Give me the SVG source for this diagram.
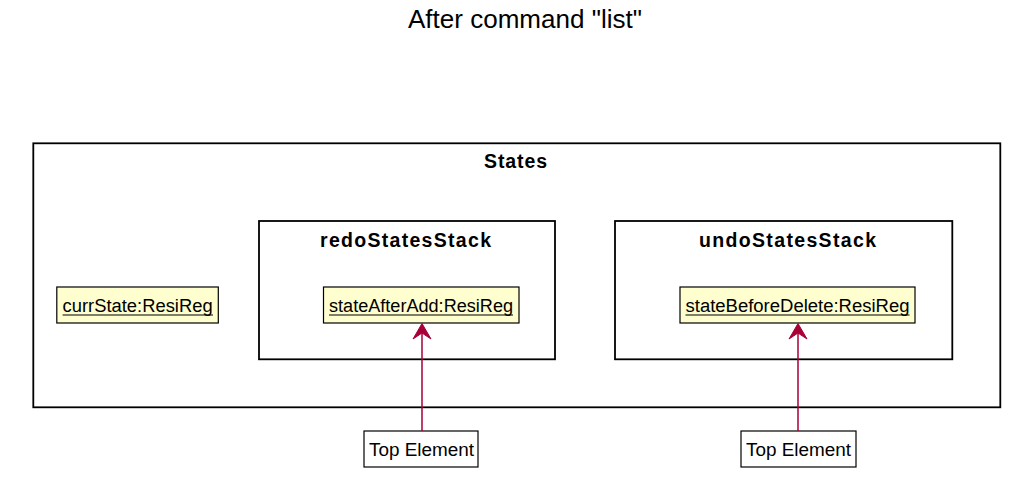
<svg xmlns="http://www.w3.org/2000/svg" width="1015" height="482" viewBox="0 0 1015 482">
<style>
.frame{fill:none;stroke:#000;stroke-width:1.8}
.obj{fill:#FEFECE;stroke:#000;stroke-width:1.2}
.note{fill:#fff;stroke:#000;stroke-width:1.2}
.ftitle{font-family:"Liberation Sans",Arial,sans-serif;font-weight:bold;font-size:19.5px;fill:#000}
.txt{font-family:"Liberation Sans",Arial,sans-serif;font-size:18px;fill:#000}
.u{stroke:#000;stroke-width:1.2}
.conn{stroke:#A80036;stroke-width:1.5;fill:none}
.head{fill:#A80036;stroke:#A80036;stroke-width:1}
</style>
<rect width="1015" height="482" fill="#fff"/>
<text x="525" y="28" text-anchor="middle" font-family="Liberation Sans, Arial, sans-serif" font-size="25.5" textLength="234" lengthAdjust="spacingAndGlyphs">After command "list"</text>
<g id="States">
<rect class="frame" x="33.3" y="143.3" width="967" height="264"/>
<text class="ftitle" x="484" y="168" textLength="63" lengthAdjust="spacing">States</text>
</g>
<g id="redoStatesStack">
<rect class="frame" x="259" y="221" width="296" height="138.3"/>
<text class="ftitle" x="320" y="247" textLength="171" lengthAdjust="spacing">redoStatesStack</text>
</g>
<g id="undoStatesStack">
<rect class="frame" x="615" y="221" width="337.3" height="138.3"/>
<text class="ftitle" x="699" y="247" textLength="177" lengthAdjust="spacing">undoStatesStack</text>
</g>
<g id="currState">
<rect class="obj" x="56.8" y="287" width="161.5" height="36"/>
<text class="txt" x="62.6" y="312" textLength="150" lengthAdjust="spacingAndGlyphs">currState:ResiReg</text>
<line class="u" x1="62.6" y1="315" x2="213" y2="315"/>
</g>
<g id="stateAfterAdd">
<rect class="obj" x="323.5" y="287" width="195.5" height="36"/>
<text class="txt" x="329" y="312" textLength="184" lengthAdjust="spacingAndGlyphs">stateAfterAdd:ResiReg</text>
<line class="u" x1="329" y1="315" x2="513" y2="315"/>
</g>
<g id="stateBeforeDelete">
<rect class="obj" x="680" y="287" width="235" height="36"/>
<text class="txt" x="685.5" y="312" textLength="224" lengthAdjust="spacingAndGlyphs">stateBeforeDelete:ResiReg</text>
<line class="u" x1="685.5" y1="315" x2="909.5" y2="315"/>
</g>
<g id="note1">
<rect class="note" x="364" y="431" width="114" height="36"/>
<text class="txt" x="369" y="456" textLength="105" lengthAdjust="spacingAndGlyphs">Top Element</text>
</g>
<g id="note2">
<rect class="note" x="741" y="431" width="115" height="36"/>
<text class="txt" x="746" y="456" textLength="105" lengthAdjust="spacingAndGlyphs">Top Element</text>
</g>
<g id="connectors">
<line class="conn" x1="422" y1="431" x2="422" y2="328"/>
<polygon class="head" points="422,323.5 413,339 422,333 431,339"/>
<line class="conn" x1="798" y1="431" x2="798" y2="328"/>
<polygon class="head" points="798,323.5 789,339 798,333 807,339"/>
</g>
</svg>
